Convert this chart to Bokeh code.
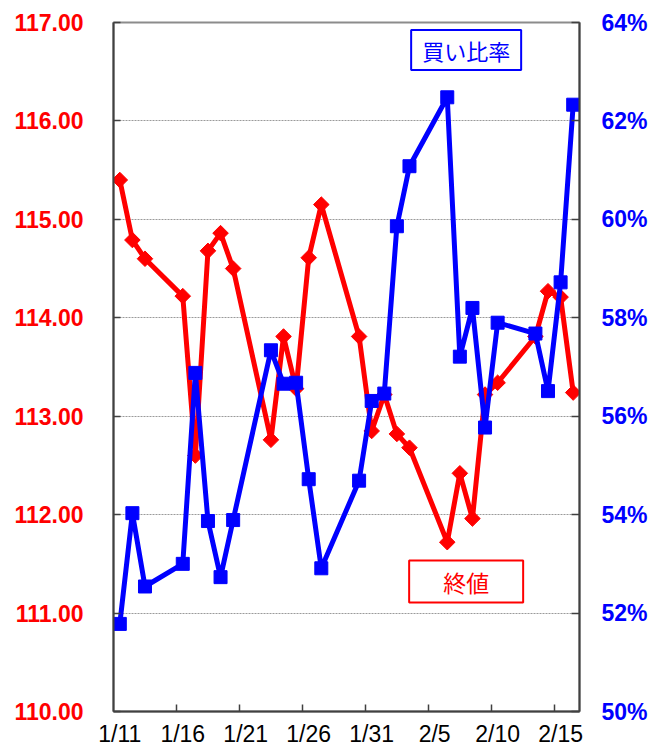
import numpy as np
import pandas as pd
from bokeh.plotting import figure
from bokeh.models import (LinearAxis, Range1d, FixedTicker, PrintfTickFormatter,
                          NumeralTickFormatter, Label, ColumnDataSource)
from bokeh.embed import file_html
from bokeh.resources import INLINE

# ---- data ----
dates = ["1/11", "1/12", "1/13", "1/16", "1/17", "1/18", "1/19", "1/20",
         "1/23", "1/24", "1/25", "1/26", "1/27", "1/30", "1/31", "2/1",
         "2/2", "2/3", "2/6", "2/7", "2/8", "2/9", "2/10", "2/13", "2/14",
         "2/15", "2/16"]
close = [115.40, 114.79, 114.60, 114.22, 112.60, 114.68, 114.86, 114.50,
         112.76, 113.81, 113.28, 114.61, 115.15, 113.81, 112.85, 113.22,
         112.82, 112.68, 111.72, 112.42, 111.96, 113.22, 113.34, 113.81,
         114.27, 114.21, 113.24]
buy_ratio = [51.78, 54.03, 52.54, 53.00, 56.88, 53.87, 52.73, 53.89,
             57.34, 56.66, 56.68, 54.72, 52.91, 54.69, 56.31, 56.46,
             59.86, 61.08, 62.48, 57.21, 58.20, 55.77, 57.90, 57.68,
             56.51, 58.72, 62.33]
x_tick_labels = ["1/11", "1/16", "1/21", "1/26", "1/31", "2/5", "2/10", "2/15"]
close_ticks = [110, 111, 112, 113, 114, 115, 116, 117]
ratio_ticks = [50, 52, 54, 56, 58, 60, 62, 64]
series_names = ["買い比率", "終値"]

base = pd.to_datetime("2017/1/11", format="%Y/%m/%d")
def day_of(d):
    return int((pd.to_datetime("2017/" + d, format="%Y/%m/%d") - base).days)

day = [day_of(d) for d in dates]
label_pos = [day_of(d) for d in x_tick_labels]
boundaries = [v - 0.5 for v in label_pos[1:]]

src = ColumnDataSource(dict(day=day, close=close, buy=buy_ratio))

p = figure(width=652, height=750,
           x_range=Range1d(day[0] - 0.5, day[-1] + 0.5),
           y_range=Range1d(close_ticks[0], close_ticks[-1]),
           output_backend="svg", toolbar_location=None,
           min_border_left=113, min_border_right=73,
           min_border_top=22, min_border_bottom=39)
p.extra_y_ranges = {"ratio": Range1d(ratio_ticks[0], ratio_ticks[-1])}

p.outline_line_color = "#8c8c8c"
p.outline_line_width = 2
p.background_fill_color = "white"
p.border_fill_color = "white"

p.xgrid.visible = False
p.ygrid.ticker = FixedTicker(ticks=close_ticks)
p.ygrid.grid_line_color = "#9a9a9a"
p.ygrid.grid_line_dash = "2 1"
p.ygrid.grid_line_width = 1

AX = "#404040"

# left axis
ly = p.yaxis[0]
ly.ticker = FixedTicker(ticks=close_ticks)
ly.formatter = NumeralTickFormatter(format="0.00")
ly.major_label_text_color = "#FF0000"
ly.major_label_text_font = "Liberation Sans"
ly.major_label_text_font_style = "bold"
ly.major_label_text_font_size = "23px"
ly.major_label_standoff = 30
ly.major_tick_in = 7
ly.major_tick_out = 0
ly.minor_tick_line_color = None
ly.axis_line_color = AX
ly.axis_line_width = 2
ly.major_tick_line_color = AX
ly.major_tick_line_width = 1.5

# right axis
ry = LinearAxis(y_range_name="ratio", ticker=FixedTicker(ticks=ratio_ticks),
                formatter=PrintfTickFormatter(format="%d%%"))
ry.major_label_text_color = "#0000FF"
ry.major_label_text_font = "Liberation Sans"
ry.major_label_text_font_style = "bold"
ry.major_label_text_font_size = "23px"
ry.major_label_standoff = 22
ry.major_tick_in = 8
ry.major_tick_out = 0
ry.minor_tick_line_color = None
ry.axis_line_color = AX
ry.axis_line_width = 2
ry.major_tick_line_color = AX
ry.major_tick_line_width = 1.5
p.add_layout(ry, "right")

# bottom axis: labels at category centres, tick marks at category boundaries
bx = p.xaxis[0]
bx.ticker = FixedTicker(ticks=label_pos, minor_ticks=boundaries)
bx.major_label_overrides = {pos: lab for pos, lab in zip(label_pos, x_tick_labels)}
bx.major_tick_line_color = None
bx.major_tick_in = 0
bx.major_tick_out = 0
bx.minor_tick_in = 7
bx.minor_tick_out = 0
bx.minor_tick_line_color = AX
bx.minor_tick_line_width = 1.5
bx.axis_line_color = AX
bx.axis_line_width = 2
bx.major_label_text_font = "Liberation Sans"
bx.major_label_text_font_size = "23px"
bx.major_label_text_color = "black"
bx.major_label_standoff = 9

# series
p.line("day", "close", source=src, color="#FF0000", line_width=5)
p.scatter("day", "close", source=src, marker="square", angle=np.pi / 4,
          size=11, color="#FF0000")
p.line("day", "buy", source=src, y_range_name="ratio", color="#0000FF", line_width=5)
p.scatter("day", "buy", source=src, y_range_name="ratio", marker="square",
          size=13, color="#0000FF")

# legend boxes
p.add_layout(Label(x=27.5, y=116.72, text=series_names[0], text_color="#0000FF",
                   text_font="Noto Sans CJK JP", text_font_size="22px",
                   text_align="center", text_baseline="middle",
                   border_line_color="#0000FF", border_line_width=2,
                   background_fill_color="white", padding=(11, 4)))
p.add_layout(Label(x=27.5, y=111.32, text=series_names[1], text_color="#FF0000",
                   text_font="Noto Sans CJK JP", text_font_size="23px",
                   text_align="center", text_baseline="middle",
                   border_line_color="#FF0000", border_line_width=2,
                   background_fill_color="white", padding=(34, 4)))

open("out.html", "w").write(file_html(p, INLINE))
